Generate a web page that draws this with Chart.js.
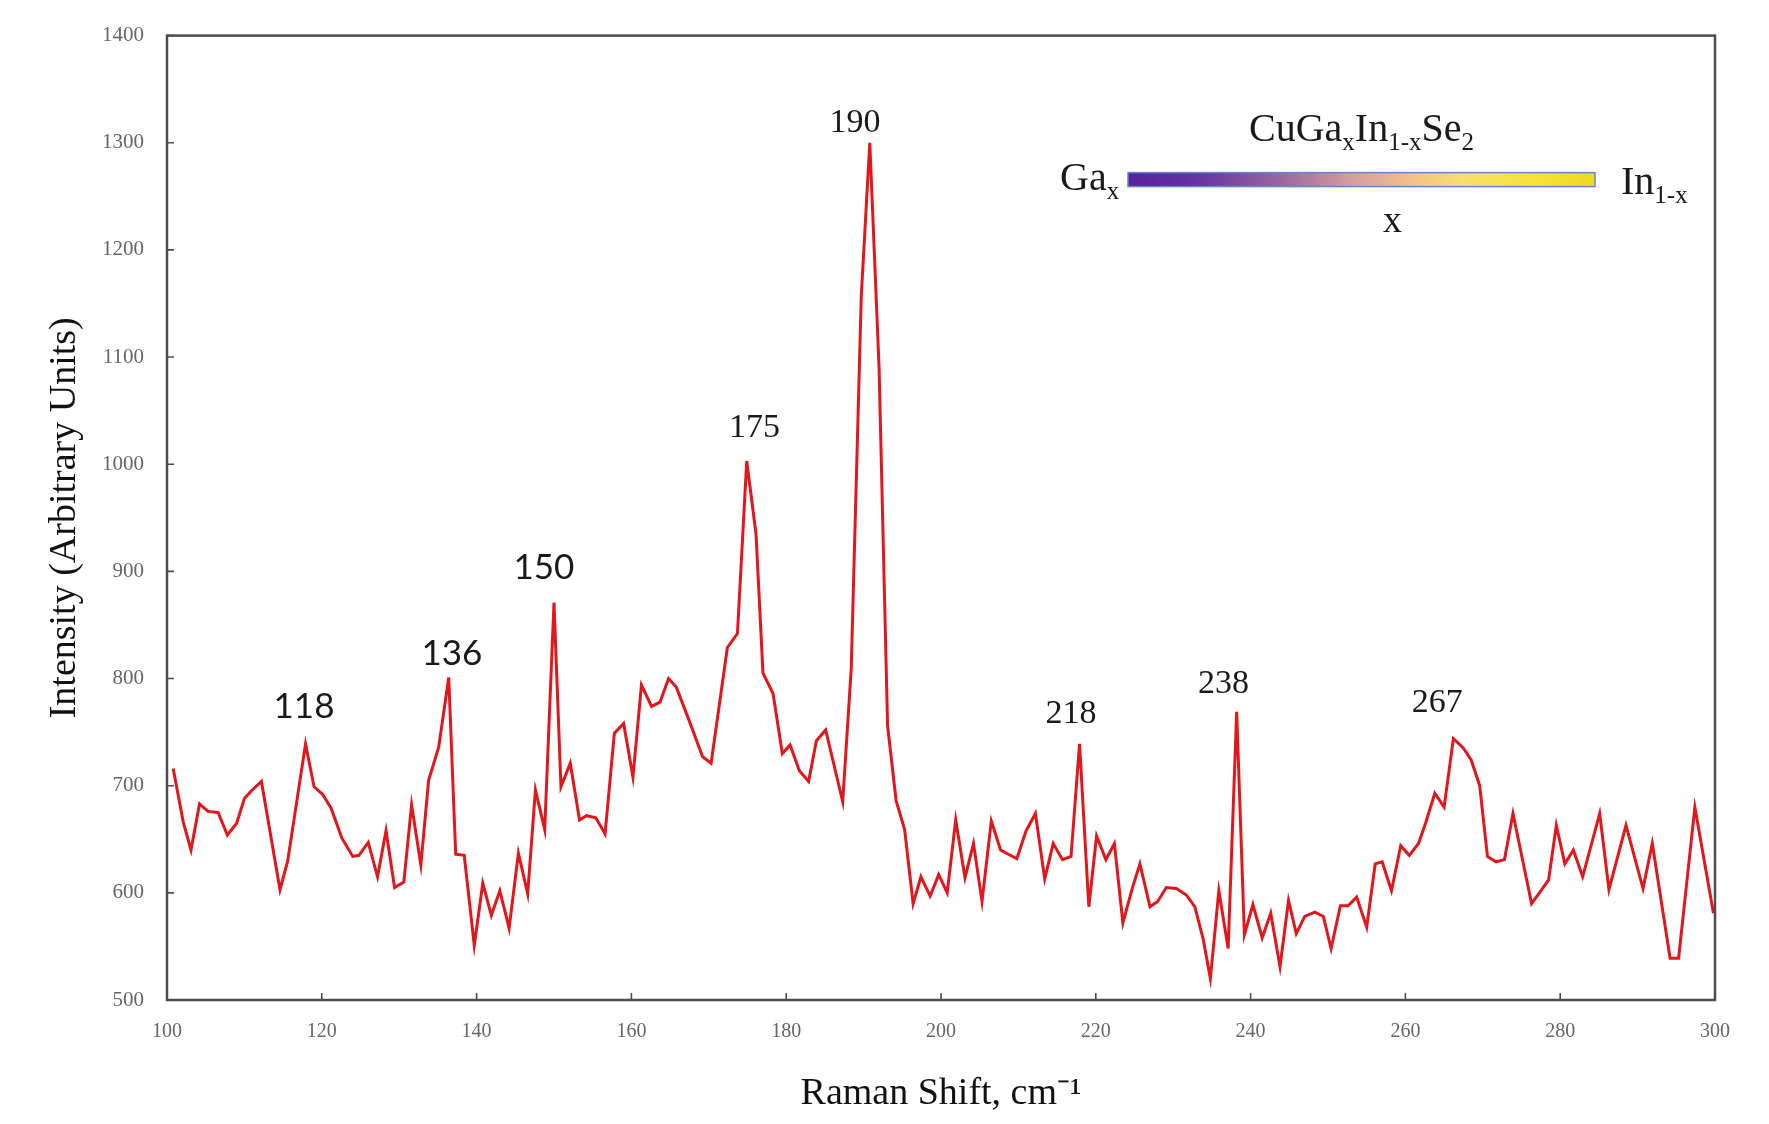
<!DOCTYPE html>
<html>
<head>
<meta charset="utf-8">
<title>Raman spectrum CuGaxIn1-xSe2</title>
<script src="https://cdn.jsdelivr.net/npm/chart.js@4.4.1/dist/chart.umd.min.js"></script>
<style>
  html, body { margin: 0; padding: 0; background: #fff; }
  #wrap { width: 1769px; height: 1124px; }
</style>
</head>
<body>
<div id="wrap"><canvas id="myChart" width="1769" height="1124"></canvas></div>
<script>
const ramanShift = [
  100.8, 102.1, 103.1, 104.2, 105.3, 106.6, 107.8, 109.0, 110.0, 111.0,
  112.2, 114.6, 115.6, 117.9, 119.0, 120.1, 121.2, 122.6, 124.0, 124.8,
  126.0, 127.2, 128.3, 129.4, 130.6, 131.6, 132.8, 133.8, 135.1, 136.4,
  137.3, 138.4, 139.7, 140.8, 141.9, 143.0, 144.2, 145.4, 146.6, 147.6,
  148.8, 150.0, 150.9, 152.1, 153.3, 154.2, 155.4, 156.6, 157.8, 159.0,
  160.2, 161.3, 162.6, 163.7, 164.8, 165.8, 167.5, 169.2, 170.3, 172.4,
  173.7, 174.9, 176.1, 177.0, 178.3, 179.5, 180.5, 181.7, 182.9, 183.9,
  185.1, 187.3, 188.4, 189.7, 190.8, 192.0, 193.1, 194.2, 195.3, 196.4,
  197.4, 198.6, 199.7, 200.8, 201.9, 203.1, 204.2, 205.3, 206.5, 207.7,
  208.7, 209.8, 211.0, 212.2, 213.4, 214.5, 215.7, 216.8, 217.9, 219.1,
  220.1, 221.3, 222.4, 223.5, 224.7, 225.7, 227.0, 228.0, 229.1, 230.4,
  231.7, 232.8, 233.9, 234.8, 235.9, 237.1, 238.2, 239.2, 240.3, 241.5,
  242.6, 243.8, 244.9, 245.9, 247.0, 248.3, 249.4, 250.4, 251.6, 252.6,
  253.7, 255.0, 256.1, 257.0, 258.2, 259.4, 260.5, 261.7, 262.6, 263.8,
  265.0, 266.2, 267.5, 268.5, 269.6, 270.6, 271.7, 272.8, 273.9, 276.3,
  277.4, 278.5, 279.5, 280.6, 281.7, 282.9, 285.1, 286.3, 288.5, 290.7,
  291.9, 294.2, 295.3, 297.4, 299.8
];
const intensity = [
  716, 666, 640, 683, 676, 675, 654, 665, 688, 696,
  704, 603, 630, 739, 699, 692, 679, 651, 634, 635,
  647, 615, 658, 605, 610, 682, 626, 705, 736, 801,
  636, 635, 551, 609, 579, 602, 567, 637, 599, 696,
  659, 871, 699, 721, 668, 672, 670, 655, 749, 758,
  708, 794, 774, 778, 800, 792, 760, 727, 721, 829,
  842, 1003, 935, 805, 786, 730, 738, 714, 704, 742,
  752, 685, 809, 1157, 1300, 1090, 756, 686, 659, 590,
  615, 597, 617, 600, 668, 614, 646, 592, 667, 640,
  636, 632, 658, 674, 613, 646, 631, 634, 739, 587,
  653, 631, 646, 572, 604, 627, 587, 592, 605, 604,
  598, 587, 556, 520, 602, 548, 769, 561, 589, 558,
  581, 531, 593, 562, 578, 582, 578, 548, 588, 588,
  596, 568, 627, 629, 602, 644, 635, 646, 665, 693,
  680, 744, 735, 724, 700, 634, 629, 631, 674, 590,
  601, 612, 663, 627, 640, 615, 674, 603, 663, 604,
  646, 539, 539, 680, 581
];

// etiquetas de los picos (centro del texto, en unidades de los ejes)
const peakNames = ["118", "136", "150", "175", "190", "218", "238", "267"];
const peakLabelX = [117.7, 136.8, 148.7, 175.9, 188.9, 216.8, 236.5, 264.1];
const peakLabelY = [774, 823, 903, 1034, 1318, 767, 795, 777];
const peakSans = [true, true, true, false, false, false, false, false];

const serif = "'Liberation Serif', 'Times New Roman', serif";

// marco completo y ticks hacia adentro
const framePlugin = {
  id: "frame",
  afterDraw(chart) {
    const { ctx, chartArea: a, scales } = chart;
    ctx.save();
    ctx.strokeStyle = "#4d4d4d";
    ctx.lineWidth = 2.5;
    ctx.strokeRect(a.left, a.top, a.right - a.left, a.bottom - a.top);
    ctx.lineWidth = 1.6;
    ctx.beginPath();
    scales.x.ticks.forEach(t => {
      const px = scales.x.getPixelForValue(t.value);
      ctx.moveTo(px, a.bottom);
      ctx.lineTo(px, a.bottom - 7);
    });
    scales.y.ticks.forEach(t => {
      const py = scales.y.getPixelForValue(t.value);
      ctx.moveTo(a.left, py);
      ctx.lineTo(a.left + 7, py);
    });
    ctx.stroke();
    ctx.restore();
  }
};

// texto con subindices: runs = [[texto, tamaño, desplazamiento]]
function drawRuns(ctx, runs, x, y, align) {
  let total = 0;
  runs.forEach(r => {
    ctx.font = r[1] + "px " + serif;
    total += ctx.measureText(r[0]).width;
  });
  let cx = align === "center" ? x - total / 2 : x;
  runs.forEach(r => {
    ctx.font = r[1] + "px " + serif;
    ctx.fillText(r[0], cx, y + r[2]);
    cx += ctx.measureText(r[0]).width;
  });
}

const notesPlugin = {
  id: "notes",
  afterDraw(chart) {
    const { ctx, chartArea: a, scales } = chart;
    ctx.save();
    ctx.fillStyle = "#1a1a1a";
    ctx.textAlign = "center";
    ctx.textBaseline = "middle";
    peakNames.forEach((name, i) => {
      ctx.font = peakSans[i] ? "35px Lato, 'Open Sans', sans-serif" : "34px " + serif;
      ctx.fillText(name, scales.x.getPixelForValue(peakLabelX[i]), scales.y.getPixelForValue(peakLabelY[i]));
    });

    // recuadro de composicion CuGaxIn1-xSe2
    const barL = a.right - 587, barR = a.right - 120, barY = a.top + 144;
    ctx.textAlign = "left";
    ctx.textBaseline = "alphabetic";
    drawRuns(ctx, [["CuGa", 40, 0], ["x", 25, 9], ["In", 40, 0], ["1-x", 25, 9], ["Se", 40, 0], ["2", 25, 9]],
      (barL + barR) / 2, a.top + 105, "center");
    drawRuns(ctx, [["Ga", 40, 0], ["x", 25, 9]], barL - 68, a.top + 154, "left");
    drawRuns(ctx, [["In", 40, 0], ["1-x", 25, 9]], barR + 26, a.top + 158, "left");
    ctx.textAlign = "center";
    ctx.font = "38px " + serif;
    ctx.fillText("x", (barL + barR) / 2 + 31, a.top + 196);

    const g = ctx.createLinearGradient(barL, 0, barR, 0);
    g.addColorStop(0, "#55229c");
    g.addColorStop(0.15, "#6633a2");
    g.addColorStop(0.33, "#9a68a0");
    g.addColorStop(0.48, "#d49e9e");
    g.addColorStop(0.6, "#f2bf8c");
    g.addColorStop(0.72, "#fbde72");
    g.addColorStop(0.86, "#f7e33c");
    g.addColorStop(1, "#f0d822");
    ctx.fillStyle = g;
    ctx.fillRect(barL, barY - 7, barR - barL, 14);
    ctx.strokeStyle = "#5f86d2";
    ctx.lineWidth = 1.5;
    ctx.strokeRect(barL, barY - 7, barR - barL, 14);
    ctx.restore();
  }
};

const config = {
  type: "line",
  data: {
    datasets: [{
      data: ramanShift.map((x, i) => ({ x: x, y: intensity[i] })),
      borderColor: "#e3161c",
      borderWidth: 3,
      pointRadius: 0,
      tension: 0,
      fill: false
    }]
  },
  options: {
    responsive: false,
    animation: false,
    layout: { padding: { top: 34, right: 54, left: 0, bottom: 0 } },
    plugins: { legend: { display: false }, tooltip: { enabled: false } },
    scales: {
      x: {
        type: "linear",
        min: 100,
        max: 300,
        grid: { display: false, drawTicks: false },
        border: { display: false },
        ticks: {
          stepSize: 20, padding: 20, color: "#666",
          font: { family: serif, size: 20 },
          callback: v => String(v)
        },
        title: {
          display: true,
          text: "Raman Shift, cm\u207B\u00B9",
          color: "#111",
          font: { family: serif, size: 38 },
          padding: { top: 0, bottom: 7 }
        },
        afterFit(scale) { scale.height = 124; }
      },
      y: {
        min: 500,
        max: 1400,
        grid: { display: false, drawTicks: false },
        border: { display: false },
        ticks: {
          stepSize: 100, padding: 23, color: "#666",
          font: { family: serif, size: 21 },
          callback: v => String(v)
        },
        title: {
          display: true,
          text: "Intensity (Arbitrary Units)",
          color: "#111",
          font: { family: serif, size: 38 },
          padding: { top: 42, bottom: 0 }
        },
        afterFit(scale) { scale.width = 167; }
      }
    }
  },
  plugins: [framePlugin, notesPlugin]
};

new Chart(document.getElementById("myChart"), config);
</script>
</body>
</html>
